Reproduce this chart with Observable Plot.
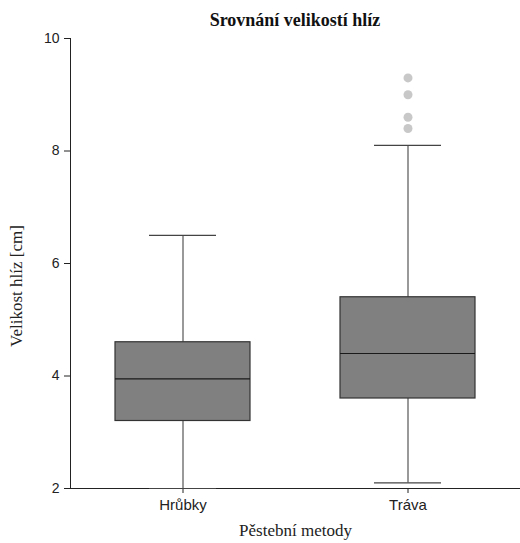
<!DOCTYPE html>
<html>
<head>
<meta charset="utf-8">
<script src="https://cdn.jsdelivr.net/npm/d3@7"></script>
<script src="https://cdn.jsdelivr.net/npm/@observablehq/plot@0.6"></script>
<style>
  body { margin: 0; background: #fff; }
  #wrap { position: relative; width: 520px; height: 543px; }
  #title { position: absolute; left: 70px; width: 450px; top: 10px; text-align: center;
    font-family: "Liberation Serif", "Times New Roman", serif; font-weight: bold; font-size: 18px; color: #111; }
  #ylabel { position: absolute; left: 17px; top: 286px; transform: translate(-50%, -50%) rotate(-90deg);
    white-space: nowrap; font-family: "Liberation Serif", "Times New Roman", serif; font-size: 17px; color: #222; }
  g[aria-label="x-axis label"] {
    font-family: "Liberation Serif", "Times New Roman", serif !important; font-size: 17px !important; fill: #222; }
  g[aria-label="x-axis tick label"] { font-size: 15px !important; }
  g[aria-label="y-axis tick label"] { font-size: 14px !important; }
</style>
</head>
<body>
<div id="wrap">
  <div id="title">Srovnání velikostí hlíz</div>
  <div id="ylabel">Velikost hlíz [cm]</div>
</div>
<script>
const methods = ["Hrůbky", "Tráva"];
const whiskerLow = [2.0, 2.1];
const q1 = [3.2, 3.6];
const median = [3.95, 4.4];
const q3 = [4.6, 5.4];
const whiskerHigh = [6.5, 8.1];
const outlierMethod = ["Tráva", "Tráva", "Tráva", "Tráva"];
const outlierValue = [8.4, 8.6, 9.0, 9.3];
const yTicks = [2, 4, 6, 8, 10];

const stats = methods.map((m, i) => ({method: m, lo: whiskerLow[i], q1: q1[i], med: median[i], q3: q3[i], hi: whiskerHigh[i]}));
const outliers = outlierValue.map((v, i) => ({method: outlierMethod[i], value: v}));

const chart = Plot.plot({
  width: 520,
  height: 543,
  marginTop: 38,
  marginBottom: 55,
  marginLeft: 70,
  marginRight: 0,
  style: {fontFamily: "'Liberation Sans', Arial, sans-serif", fontSize: "14px", color: "#222", background: "transparent"},
  x: {domain: methods, paddingInner: 0.4, paddingOuter: 0.2, tickSize: 5, tickPadding: 6, line: true,
      label: "Pěstební metody", labelAnchor: "center", labelOffset: 47},
  y: {domain: [2, 10], ticks: yTicks, tickSize: 6, tickPadding: 5, line: true, label: null},
  marks: [
    Plot.ruleX(stats, {x: "method", y1: "lo", y2: "q1", stroke: "#555", strokeWidth: 1.2}),
    Plot.ruleX(stats, {x: "method", y1: "q3", y2: "hi", stroke: "#555", strokeWidth: 1.2}),
    Plot.tickY(stats, {x: "method", y: "hi", insetLeft: 34, insetRight: 34, stroke: "#444", strokeWidth: 1.2}),
    Plot.tickY(stats, {x: "method", y: "lo", insetLeft: 34, insetRight: 34, stroke: "#444", strokeWidth: 1.2}),
    Plot.barY(stats, {x: "method", y1: "q1", y2: "q3", fill: "#808080", stroke: "#333", strokeWidth: 1.2}),
    Plot.tickY(stats, {x: "method", y: "med", stroke: "#1a1a1a", strokeWidth: 1.2}),
    Plot.dot(outliers, {x: "method", y: "value", r: 4.5, fill: "#c8c8c8", stroke: "none"})
  ]
});
document.getElementById("wrap").prepend(chart);
chart.style.position = "absolute";
chart.style.left = "0";
chart.style.top = "0";
</script>
</body>
</html>
